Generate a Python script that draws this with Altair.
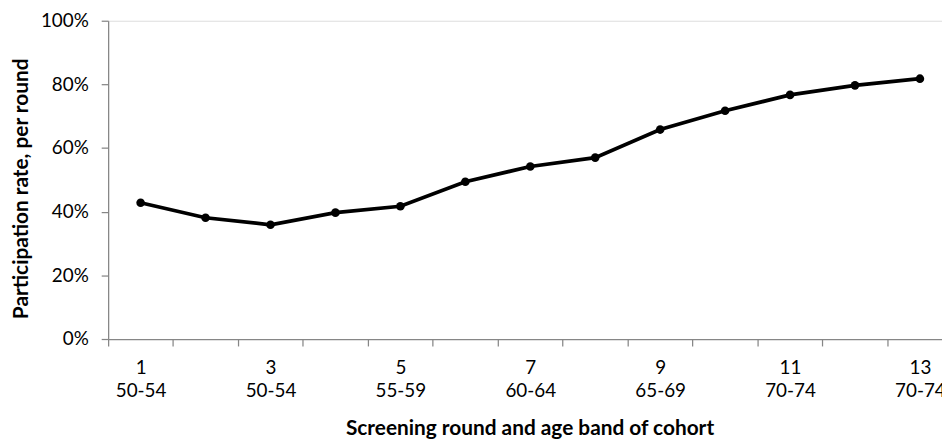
import altair as alt
import pandas as pd

# Participation per screening round
rounds = [1, 2, 3, 4, 5, 6, 7, 8, 9, 10, 11, 12, 13]
participation = [0.428, 0.381, 0.359, 0.397, 0.417, 0.494, 0.542, 0.570,
                 0.658, 0.717, 0.767, 0.797, 0.818]

# Labelled rounds and their cohort age band
label_rounds = [1, 3, 5, 7, 9, 11, 13]
label_bands = ["50-54", "50-54", "55-59", "60-64", "65-69", "70-74", "70-74"]

FONT = "Lato"
AXIS_GREY = "#868686"

df = pd.DataFrame({"round": rounds, "rate": participation})

# ticks sit between rounds, labels on odd rounds
tick_values = [r - 0.5 for r in rounds] + [rounds[-1] + 0.5]
axis_values = sorted(tick_values + label_rounds)

band_js = "[" + ",".join(f"'{b}'" for b in label_bands) + "]"
label_expr = (
    f"datum.value % 1 == 0 ? [toString(datum.value), {band_js}[(datum.value - 1) / 2]] : ''"
)

x_axis = alt.Axis(
    values=axis_values,
    labelExpr=label_expr,
    labelOverlap=False,
    labelFlush=False,
    labelBound=False,
    labelFont=FONT,
    labelFontSize=19,
    labelColor="#000000",
    labelLineHeight=23,
    labelPadding=13,
    tickSize=7,
    tickColor=AXIS_GREY,
    tickWidth=1.25,
    tickOpacity={"condition": {"test": "datum.value % 1 == 0", "value": 0}, "value": 1},
    domainColor=AXIS_GREY,
    domainWidth=1.25,
    grid=False,
    title="Screening round and age band of cohort",
    titleFont=FONT,
    titleFontSize=21,
    titleFontWeight="bold",
    titleColor="#000000",
    titleX=425,
    titleY=96,
    titleAlign="center",
    titleBaseline="alphabetic",
)

y_axis = alt.Axis(
    values=[0, 0.2, 0.4, 0.6, 0.8, 1.0],
    format=".0%",
    labelFont=FONT,
    labelFontSize=19,
    labelColor="#000000",
    labelPadding=13,
    tickSize=7,
    tickColor=AXIS_GREY,
    tickWidth=1.25,
    domainColor=AXIS_GREY,
    domainWidth=1.25,
    grid=False,
    title="Participation rate, per round",
    titleFont=FONT,
    titleFontSize=21,
    titleFontWeight="bold",
    titleColor="#000000",
    titleAngle=270,
    titleX=-87,
    titleY=169,
    titleAlign="center",
    titleBaseline="middle",
)

base = alt.Chart(df).encode(
    x=alt.X("round:Q", scale=alt.Scale(domain=[0.5, 13.34], nice=False, zero=False), axis=x_axis),
    y=alt.Y("rate:Q", scale=alt.Scale(domain=[0, 1], nice=False), axis=y_axis),
)

line = base.mark_line(color="#000000", strokeWidth=3.75)
points = base.mark_point(filled=True, color="#000000", size=75, opacity=1)

chart = alt.layer(line, points).properties(
    width=841,
    height=321,
    autosize=alt.AutoSizeParams(type="none"),
    padding={"left": 101, "top": 11, "right": 0, "bottom": 99},
).configure_view(stroke=None).configure(background="white")

chart.save("out.html", embed_options={"renderer": "svg", "actions": False})
